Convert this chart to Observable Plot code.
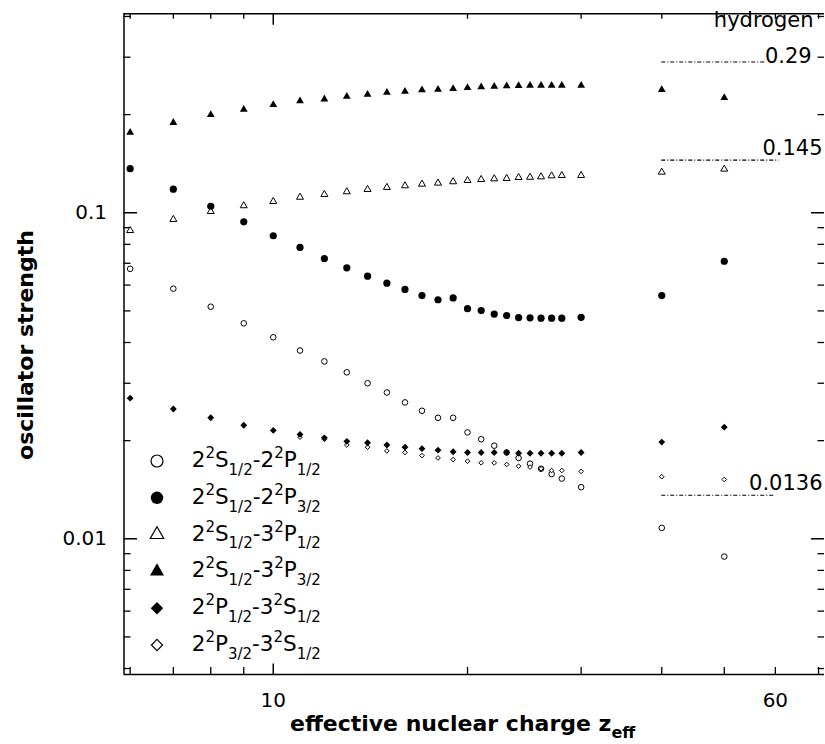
<!DOCTYPE html>
<html>
<head>
<meta charset="utf-8">
<script src="https://cdn.jsdelivr.net/npm/d3@7"></script>
<script src="https://cdn.jsdelivr.net/npm/@observablehq/plot@0.6"></script>
<style>
  html, body { margin: 0; padding: 0; background: white; }
  #chart { width: 825px; height: 744px; }
</style>
</head>
<body>
<div id="chart"></div>
<script>
// ---- data ----
const z = [6,7,8,9,10,11,12,13,14,15,16,17,18,19,20,21,22,23,24,25,26,27,28,30,40,50];

// 2²S1/2 - 2²P1/2 (open circles)
const s2p12 = [0.0673,0.0585,0.0515,0.0458,0.0415,0.0378,0.0350,0.0324,0.0300,0.0281,0.0262,0.0247,0.0235,0.0235,0.0212,0.0202,0.0193,0.0184,0.0177,0.0170,0.0164,0.0158,0.0153,0.0144,0.0108,0.00882];
// 2²S1/2 - 2²P3/2 (filled circles)
const s2p32 = [0.1365,0.1181,0.1047,0.0938,0.0850,0.0783,0.0724,0.0678,0.0639,0.0608,0.0582,0.0557,0.0541,0.0548,0.0508,0.0501,0.0489,0.0484,0.0477,0.0476,0.0475,0.0475,0.0475,0.0478,0.0557,0.0710];
// 2²S1/2 - 3²P1/2 (open triangles)
const s3p12 = [0.0882,0.0954,0.1009,0.1051,0.1083,0.1116,0.1138,0.1160,0.1179,0.1196,0.1210,0.1224,0.1233,0.1245,0.1256,0.1265,0.1271,0.1274,0.1283,0.1285,0.1289,0.1298,0.1301,0.1301,0.1332,0.1361];
// 2²S1/2 - 3²P3/2 (filled triangles)
const s3p32 = [0.1763,0.189,0.1999,0.2075,0.2145,0.220,0.2231,0.2274,0.2307,0.2339,0.2356,0.2378,0.2390,0.2402,0.2419,0.2429,0.2441,0.2446,0.2453,0.2458,0.2458,0.2458,0.2458,0.2458,0.2384,0.2253];
// 2²P1/2 - 3²S1/2 (filled diamonds)
const p12s = [0.0270,0.0250,0.0235,0.0223,0.0215,0.0209,0.0204,0.0199,0.0197,0.0194,0.0191,0.0189,0.0187,0.0185,0.0184,0.0184,0.0184,0.0184,0.0183,0.0183,0.0183,0.0183,0.0183,0.0184,0.0198,0.0220];
// 2²P3/2 - 3²S1/2 (open diamonds)
const p32s = [null,null,null,null,null,0.0205,0.0202,0.0194,0.0191,0.0186,0.0184,0.0180,0.0177,0.0175,0.0173,0.0171,0.0171,0.0169,0.0167,0.0166,0.0164,0.0162,0.0162,0.0161,0.0155,0.0152];

// hydrogen limits
const hydroValues = [0.29, 0.145, 0.0136];
const hydroLabels = ["0.29", "0.145", "0.0136"];
const hydroStart = [40, 40, 40];
const hydroEnd = [57.8, 60.8, 60.1];

// axis ticks
const xDomain = [5.87, 71.5];
const yDomain = [0.003835, 0.4076];
const xLabelTicks = [10, 60];
const yLabelTicks = [0.01, 0.1];
const xMajor = [10];
const xMinor = [6,7,8,9,20,30,40,50,60,70];
const yMajor = [0.01, 0.1];
const yMinor = [0.004,0.005,0.006,0.007,0.008,0.009,0.02,0.03,0.04,0.05,0.06,0.07,0.08,0.09,0.2,0.3,0.4];

// ---- build ----
const rows = arr => z.map((zv, i) => ({z: zv, f: arr[i]})).filter(d => d.f != null);
const hydro = hydroValues.map((v, i) => ({v, label: hydroLabels[i], x1: hydroStart[i], x2: hydroEnd[i]}));

const W = 825, H = 744;
const mL = 123.5, mR = 1, mT = 13.3, mB = 70;
const plotW = W - mL - mR, plotH = H - mT - mB;
const font = "DejaVu Sans";

const svg = Plot.plot({
  width: W, height: H,
  marginLeft: mL, marginRight: mR, marginTop: mT, marginBottom: mB,
  style: {fontFamily: font, background: "white", color: "black"},
  x: {type: "log", domain: xDomain, label: null},
  y: {type: "log", domain: yDomain, label: null},
  marks: [
    // frame (left, top, bottom)
    Plot.ruleX([xDomain[0]], {stroke: "black", strokeWidth: 1.5}),
    Plot.ruleY([yDomain[1], yDomain[0]], {stroke: "black", strokeWidth: 1.5}),
    // inward ticks
    Plot.tickY(yMinor, {insetRight: plotW - 7, strokeWidth: 1.3}),
    Plot.tickY(yMajor, {insetRight: plotW - 13.5, strokeWidth: 1.5}),
    Plot.tickY(yMinor, {insetLeft: plotW - 6.5, strokeWidth: 1.3}),
    Plot.tickY(yMajor, {insetLeft: plotW - 13, strokeWidth: 1.5}),
    Plot.tickX(xMinor, {insetTop: plotH - 7, strokeWidth: 1.3}),
    Plot.tickX(xMajor, {insetTop: plotH - 10.5, strokeWidth: 1.5}),
    Plot.tickX(xMinor, {insetBottom: plotH - 5.5, strokeWidth: 1.3}),
    Plot.tickX(xMajor, {insetBottom: plotH - 11.5, strokeWidth: 1.5}),
    // tick labels
    Plot.axisX({ticks: xLabelTicks, tickSize: 0, tickPadding: 18, fontSize: 20, label: null, tickFormat: d => String(d)}),
    Plot.axisY({ticks: yLabelTicks, tickSize: 0, tickPadding: 17, fontSize: 20, label: null, tickFormat: d => String(d)}),
    // hydrogen limits
    Plot.ruleY(hydro, {y: "v", x1: "x1", x2: "x2", stroke: "black", strokeWidth: 1.2, strokeDasharray: "4,2,1,2"}),
    Plot.text(hydro.slice(0, 1), {x: "x2", y: "v", text: "label", textAnchor: "start", lineAnchor: "bottom", dy: 1.5, fontSize: 21}),
    Plot.text(hydro.slice(1), {y: "v", text: "label", frameAnchor: "right", textAnchor: "end", lineAnchor: "bottom", dx: -2, dy: -5.5, fontSize: 21}),
    Plot.text(["hydrogen"], {frameAnchor: "top-right", textAnchor: "end", lineAnchor: "bottom", dx: -11, dy: 12.7, fontSize: 21}),
    // open markers first
    Plot.dot(rows(s2p12), {x: "z", y: "f", symbol: "circle", r: 2.8, fill: "white", stroke: "black", strokeWidth: 1}),
    Plot.dot(rows(s3p12), {x: "z", y: "f", symbol: "triangle", r: 2.6, fill: "white", stroke: "black", strokeWidth: 1}),
    Plot.dot(rows(p32s), {x: "z", y: "f", symbol: "diamond2", r: 2.1, fill: "white", stroke: "black", strokeWidth: 1}),
    // filled markers
    Plot.dot(rows(s2p32), {x: "z", y: "f", symbol: "circle", r: 3.6, fill: "black", stroke: "none"}),
    Plot.dot(rows(s3p32), {x: "z", y: "f", symbol: "triangle", r: 2.9, fill: "black", stroke: "none"}),
    Plot.dot(rows(p12s), {x: "z", y: "f", symbol: "diamond2", r: 3.1, fill: "black", stroke: "none"})
  ]
});

document.getElementById("chart").appendChild(svg);

// ---- titles and legend ----
const root = d3.select(svg);

root.append("text")
  .attr("transform", "translate(32.7,345) rotate(-90)")
  .attr("text-anchor", "middle")
  .attr("font-family", font).attr("font-weight", "bold").attr("font-size", 22)
  .attr("fill", "black")
  .text("oscillator strength");

const xt = root.append("text")
  .attr("x", 290).attr("y", 731)
  .attr("text-anchor", "start")
  .attr("font-family", font).attr("font-weight", "bold").attr("font-size", 22)
  .attr("fill", "black");
xt.append("tspan").text("effective nuclear charge z");
xt.append("tspan").attr("font-size", 16).attr("dy", 7).text("eff");

const legendItems = [
  {parts: [["2"],["2","sup"],["S"],["1/2","sub"],["-2"],["2","sup"],["P"],["1/2","sub"]], symbol: d3.symbolCircle, size: 6.0, filled: false},
  {parts: [["2"],["2","sup"],["S"],["1/2","sub"],["-2"],["2","sup"],["P"],["3/2","sub"]], symbol: d3.symbolCircle, size: 6.2, filled: true},
  {parts: [["2"],["2","sup"],["S"],["1/2","sub"],["-3"],["2","sup"],["P"],["1/2","sub"]], symbol: d3.symbolTriangle, size: 5.0, filled: false},
  {parts: [["2"],["2","sup"],["S"],["1/2","sub"],["-3"],["2","sup"],["P"],["3/2","sub"]], symbol: d3.symbolTriangle, size: 5.2, filled: true},
  {parts: [["2"],["2","sup"],["P"],["1/2","sub"],["-3"],["2","sup"],["S"],["1/2","sub"]], symbol: d3.symbolDiamond2, size: 5.6, filled: true},
  {parts: [["2"],["2","sup"],["P"],["3/2","sub"],["-3"],["2","sup"],["S"],["1/2","sub"]], symbol: d3.symbolDiamond2, size: 5.0, filled: false}
];
const legendY0 = 461, legendStep = 36.8, legendMarkX = 157, legendTextX = 191.7;

legendItems.forEach((item, i) => {
  const cy = legendY0 + i * legendStep;
  root.append("path")
    .attr("transform", `translate(${legendMarkX},${cy})`)
    .attr("d", d3.symbol(item.symbol, Math.PI * item.size * item.size)())
    .attr("fill", item.filled ? "black" : "white")
    .attr("stroke", "black")
    .attr("stroke-width", item.filled ? 0 : 1.2);
  const t = root.append("text")
    .attr("x", legendTextX).attr("y", cy + 6)
    .attr("text-anchor", "start")
    .attr("font-family", font).attr("font-size", 21.5).attr("fill", "black");
  let off = 0;
  item.parts.forEach(([s, kind]) => {
    let target = kind === "sup" ? -9 : kind === "sub" ? 7.7 : 0;
    const ts = t.append("tspan").attr("dy", target - off).text(s);
    if (kind) ts.attr("font-size", 15);
    off = target;
  });
});
</script>
</body>
</html>
